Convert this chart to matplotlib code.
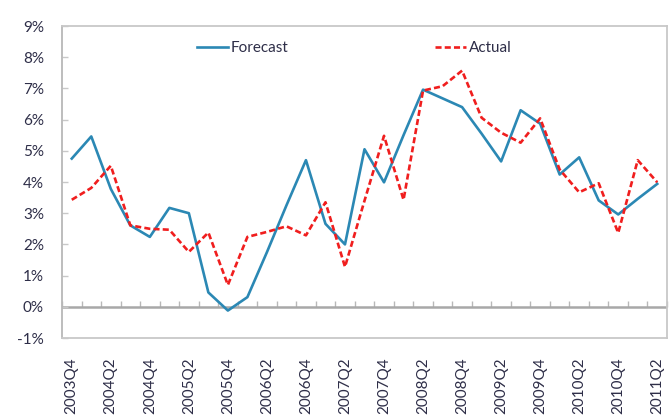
import numpy as np
import matplotlib
matplotlib.use('Agg')
import matplotlib.pyplot as plt
from matplotlib.ticker import FuncFormatter

plt.rcParams['font.family'] = ['Lato', 'DejaVu Sans']

quarters = ['2003Q4', '2004Q1', '2004Q2', '2004Q3', '2004Q4', '2005Q1', '2005Q2', '2005Q3',
            '2005Q4', '2006Q1', '2006Q2', '2006Q3', '2006Q4', '2007Q1', '2007Q2', '2007Q3',
            '2007Q4', '2008Q1', '2008Q2', '2008Q3', '2008Q4', '2009Q1', '2009Q2', '2009Q3',
            '2009Q4', '2010Q1', '2010Q2', '2010Q3', '2010Q4', '2011Q1', '2011Q2']

# percent values
forecast = [4.75, 5.46, 3.78, 2.61, 2.24, 3.17, 3.00, 0.46, -0.12, 0.31, 1.75, 3.25, 4.70, 2.66, 2.00, 5.05,
            3.99, 5.50, 6.96, 6.68, 6.40, 5.55, 4.66, 6.30, 5.87, 4.24, 4.79, 3.41, 2.96, 3.46, 3.94]
actual = [3.43, 3.81, 4.52, 2.61, 2.50, 2.47, 1.76, 2.38, 0.70, 2.24, 2.40, 2.58, 2.29, 3.35, 1.28, 3.40,
          5.48, 3.43, 6.93, 7.07, 7.57, 6.06, 5.58, 5.26, 6.04, 4.40, 3.67, 3.96, 2.37, 4.70, 3.99]

text_col = '#2e2e48'
frame_col = '#c8c8c8'
ymin, ymax = -1, 9

fig, ax = plt.subplots(figsize=(6.7, 4.15), dpi=100)
fig.subplots_adjust(left=62/670, right=667/670, top=1-26/415, bottom=1-338/415)

x = np.arange(len(quarters))
ax.axhline(0, color='#a8a8a8', lw=1.8, zorder=1)
ax.plot(x, forecast, color='#2b88b4', lw=1.9, label='Forecast', zorder=3)
ax.plot(x, actual, color='#f01e1e', lw=1.9, dashes=(2.3, 1.2), label='Actual', zorder=4)

ax.set_xlim(-0.5, len(quarters) - 0.5)
ax.set_ylim(ymin, ymax)

# category labels every second quarter, at the bottom
ax.set_xticks(x[::2])
ax.set_xticklabels(quarters[::2], rotation=90, va='top', ha='center')
ax.tick_params(axis='x', length=0, pad=14, labelsize=11, labelcolor=text_col)

ax.set_yticks(np.arange(ymin, ymax + 1))
ax.yaxis.set_major_formatter(FuncFormatter(lambda v, p: '%d%%' % v))
ax.tick_params(axis='y', direction='in', length=4.5, width=1, color=frame_col,
               pad=13, labelsize=11, labelcolor=text_col)

# small tick marks between categories sitting on the 0% line
sec = ax.secondary_xaxis((0 - ymin) / (ymax - ymin))
sec.set_xticks(np.arange(-0.5, len(quarters)))
sec.set_xticklabels([])
sec.tick_params(direction='in', length=4, width=1, color='#b8b8b8')
sec.spines['bottom'].set_visible(False)

for s in ax.spines.values():
    s.set_color(frame_col)
    s.set_linewidth(1.3)
ax.spines['left'].set_color('#b8b8b8')

ax.legend(ncol=2, loc='center', bbox_to_anchor=(0.483, 0.929), frameon=False,
          columnspacing=9.6, handlelength=2.0, handletextpad=0.2, fontsize=11,
          labelcolor=text_col)

plt.savefig('out.png', dpi=100)
